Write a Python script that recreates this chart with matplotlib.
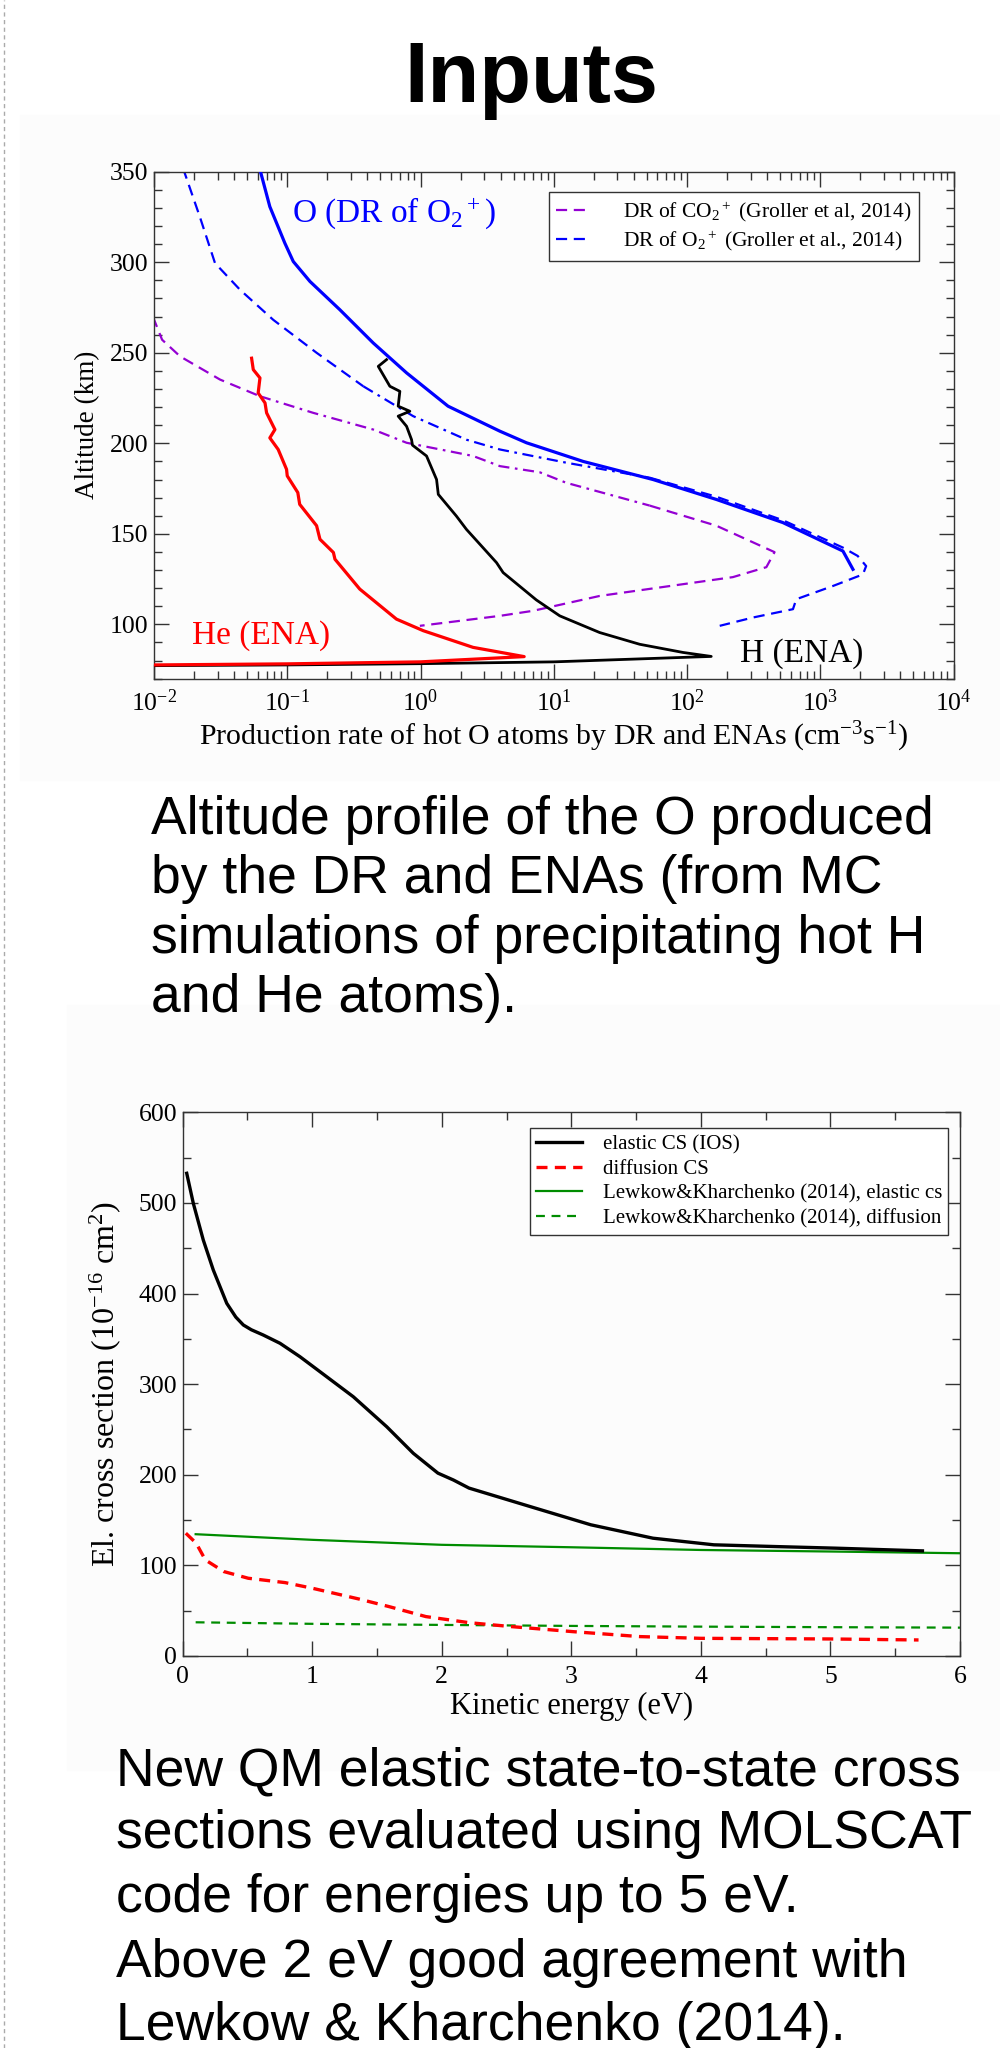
import numpy as np
import matplotlib
matplotlib.use("Agg")
import matplotlib.pyplot as plt
from matplotlib.ticker import LogLocator, MultipleLocator, NullFormatter
from matplotlib.patches import Rectangle
from matplotlib.lines import Line2D

# ---------------- Top chart data: production rate (cm^-3 s^-1) vs altitude (km)
o_dr_o2_rate = [0.063, 0.074, 0.096, 0.111, 0.148, 0.248, 0.442, 0.786, 1.61, 3.94, 6.24,
                16.6, 55.6, 166, 525, 1480, 1760]
o_dr_o2_alt = [350, 330.7, 310.5, 300.4, 289.4, 273.8, 255.4, 238.9, 220.5, 206.7, 200.3,
               190, 180, 169, 156.2, 140.5, 130.4]

groller_o2_rate = [0.0165, 0.0221, 0.0287, 0.0442, 0.0785, 0.166, 0.372, 0.881, 2.21, 3.94,
                   12.4, 52.5, 166, 525, 1480, 1910, 2210, 2090, 1245, 661, 624, 313, 176]
groller_o2_alt = [352, 325, 299.5, 284.8, 268.2, 250, 231.5, 215, 202, 196.6,
                  189.3, 181, 170.5, 157.5, 142.4, 137.8, 132.2, 127.6, 121.2, 113.9, 108.4, 103.8, 99.2]

groller_co2_rate = [0.0098, 0.0115, 0.0157, 0.0313, 0.0624, 0.157, 0.442, 0.786, 2.48, 3.94,
                    7.85, 12.4, 52.5, 166, 454, 394, 221, 93.3, 22.1, 7.0, 3.94, 0.989]
groller_co2_alt = [270, 257.2, 248, 235.2, 226, 216.8, 207.6, 200.3, 193, 187.4,
                   184, 178.2, 165.6, 154.5, 139.9, 131.6, 126.1, 122.2, 115.7, 107.5, 104.7, 99.2]

h_ena_rate = [0.556, 0.482, 0.589, 0.70, 0.68, 0.832, 0.68, 0.786, 0.857, 0.87, 1.11, 1.32,
              1.36, 1.86, 2.21, 3.72, 4.17, 7.4, 11.1, 22.1, 44.2, 93.3, 152, 10, 1, 0.1, 0.01]
h_ena_alt = [246.2, 242.5, 231.5, 228.7, 220.5, 217.7, 215, 209.4, 202, 199, 193, 180,
             171.8, 159.8, 152.5, 134.1, 128.6, 113.5, 104.7, 95.5, 89, 84.5, 82.3, 79.3, 78.3, 77.6, 77.2]

he_ena_rate = [0.054, 0.0556, 0.0624, 0.0605, 0.0681, 0.07, 0.0808, 0.074, 0.0855, 0.0988, 0.1,
               0.12, 0.124, 0.166, 0.176, 0.222, 0.228, 0.35, 0.66, 1.05, 2.48, 6.0, 1, 0.1, 0.01]
he_ena_alt = [247, 240.7, 236.1, 227.8, 222.3, 216.8, 207.6, 203, 196.6, 185.6, 182,
              172.8, 166.3, 154.5, 147, 139.7, 136, 119.5, 102.9, 96.5, 87.3, 82.2, 79.3, 78.2, 77.6]

top_xticks = [1e-2, 1e-1, 1e0, 1e1, 1e2, 1e3, 1e4]
top_yticks = [100, 150, 200, 250, 300, 350]

# ---------------- Bottom chart data: cross section (1e-16 cm^2) vs kinetic energy (eV)
energy_ios = [0.031, 0.082, 0.159, 0.236, 0.34, 0.41, 0.468, 0.53, 0.622, 0.751, 0.905, 1.06, 1.317,
              1.575, 1.78, 1.97, 2.09, 2.21, 2.68, 3.15, 3.63, 4.1, 4.57, 5.04, 5.71]
cs_elastic_ios = [532.7, 499.5, 459, 426, 389.2, 374, 365.3, 360, 354.2, 345.1, 330.3, 313.7, 286.1,
                  253, 223.7, 201.8, 194.2, 185.3, 165, 144.8, 130, 122.7, 120.8, 119, 116]

energy_diff = [0.024, 0.104, 0.175, 0.317, 0.506, 0.79, 1.0, 1.357, 1.593, 1.877, 2.21,
               2.54, 3.01, 3.53, 4.0, 5.0, 5.68]
cs_diffusion = [135.5, 124.5, 106, 93.2, 85.8, 81, 74.8, 63, 54.5, 43.5, 36.8,
                32.4, 26.9, 21.4, 19.5, 18.8, 17.7]

energy_lk = [0.1, 1, 2, 3, 4, 5, 6]
cs_lk_elastic = [134.4, 128.2, 122.7, 120, 117, 115.3, 113.4]
cs_lk_diffusion = [37.2, 35.5, 34.3, 33.2, 32.4, 31.8, 31.3]

bottom_xticks = [0, 1, 2, 3, 4, 5, 6]
bottom_yticks = [0, 100, 200, 300, 400, 500, 600]

caption_top = ["Altitude profile of the O produced",
               "by the DR and ENAs (from MC",
               "simulations of precipitating hot H",
               "and He atoms)."]
caption_bottom = ["New QM elastic state-to-state cross",
                  "sections evaluated using MOLSCAT",
                  "code for energies up to 5 eV.",
                  "Above 2 eV good agreement with",
                  "Lewkow & Kharchenko (2014)."]

# ---------------- figure
plt.rcParams.update({
    "font.family": ["Liberation Serif", "DejaVu Serif"],
    "mathtext.fontset": "custom",
    "mathtext.rm": "Liberation Serif",
    "mathtext.it": "Liberation Serif:italic",
    "mathtext.bf": "Liberation Serif:bold",
    "axes.linewidth": 1.0,
    "axes.edgecolor": "#333333",
    "axes.unicode_minus": False,
})

W, H = 1000, 2048
fig = plt.figure(figsize=(10, 20.48), dpi=100)
fig.patch.set_facecolor("white")


def fx(px):
    return px / W


def fy(py):
    return 1 - py / H


# very faint background of the embedded chart images
fig.add_artist(Rectangle((fx(20), fy(780)), fx(980), (780 - 115) / H,
                         transform=fig.transFigure, color="#fcfcfc", zorder=0))
fig.add_artist(Rectangle((fx(67), fy(1770)), fx(933), (1770 - 1005) / H,
                         transform=fig.transFigure, color="#fcfcfc", zorder=0))
# dashed page border on the left
fig.add_artist(Line2D([fx(4), fx(4)], [0, 1], transform=fig.transFigure,
                      color="#aaaaaa", lw=1.0, linestyle=(0, (3, 2.5))))

sans = ["Liberation Sans", "DejaVu Sans"]
fig.text(fx(531), fy(102), "Inputs", family=sans, fontweight="bold", fontsize=61,
         ha="center", va="baseline")

for line, yb in zip(caption_top, [834, 893.3, 952.7, 1011.7]):
    fig.text(fx(150.7), fy(yb), line, family=sans, fontsize=38.5, ha="left", va="baseline")
for line, yb in zip(caption_bottom, [1785, 1848.3, 1911.7, 1976.7, 2040]):
    fig.text(fx(116), fy(yb), line, family=sans, fontsize=38.5, ha="left", va="baseline")

# ---------------- top axes
ax1 = fig.add_axes([fx(154), fy(678.7), (953.5 - 154) / W, (678.7 - 171.7) / H])
ax1.set_facecolor("none")
blue = "#0000ff"
purple = "#9400d3"
dash = (0, (5, 3))
dashdot = (0, (5, 2.5, 1.2, 2.5))

ax1.plot(o_dr_o2_rate, o_dr_o2_alt, color=blue, lw=2.3, zorder=4)
n1, n2 = 6, 11
ax1.plot(groller_o2_rate[:n1 + 1], groller_o2_alt[:n1 + 1], color=blue, lw=1.6, linestyle=dash)
ax1.plot(groller_o2_rate[n1:n2 + 1], groller_o2_alt[n1:n2 + 1], color=blue, lw=1.6, linestyle=dashdot)
ax1.plot(groller_o2_rate[n2:], groller_o2_alt[n2:], color=blue, lw=1.6, linestyle=dash)
m1, m2 = 4, 12
ax1.plot(groller_co2_rate[:m1 + 1], groller_co2_alt[:m1 + 1], color=purple, lw=1.6, linestyle=dash)
ax1.plot(groller_co2_rate[m1:m2 + 1], groller_co2_alt[m1:m2 + 1], color=purple, lw=1.6, linestyle=dashdot)
ax1.plot(groller_co2_rate[m2:], groller_co2_alt[m2:], color=purple, lw=1.6, linestyle=dash)
ax1.plot(h_ena_rate, h_ena_alt, color="black", lw=2.0, zorder=3)
ax1.plot(he_ena_rate, he_ena_alt, color="#ff0000", lw=2.3, zorder=3)

ax1.set_xscale("log")
ax1.set_xlim(1e-2, 1e4)
ax1.set_ylim(70, 350)
ax1.set_xticks(top_xticks)
ax1.xaxis.set_minor_locator(LogLocator(base=10, subs=np.arange(2, 10), numticks=20))
ax1.xaxis.set_minor_formatter(NullFormatter())
ax1.set_yticks(top_yticks)
ax1.yaxis.set_minor_locator(MultipleLocator(10))
ax1.tick_params(which="both", direction="in", top=True, right=True, color="#333333", width=1.0)
ax1.tick_params(which="major", length=11, labelsize=18.5)
ax1.tick_params(which="minor", length=6)
ax1.tick_params(axis="x", which="major", pad=8)
ax1.tick_params(axis="y", which="major", pad=4)

ax1.set_xlabel(r"Production rate of hot O atoms by DR and ENAs (cm$^{-3}$s$^{-1}$)", fontsize=21.5)
ax1.xaxis.set_label_coords(0.5, -0.081)
ax1.set_ylabel("Altitude (km)", fontsize=19.5)
ax1.yaxis.set_label_coords(-0.0675, 0.5)

ax1.text(0.108, 327, r"O (DR of O$_2$$^+$)", color=blue, fontsize=24, ha="left", va="center")
ax1.text(0.0192, 93.7, "He (ENA)", color="#ff0000", fontsize=24, ha="left", va="center")
ax1.text(248, 83.6, "H (ENA)", color="black", fontsize=24, ha="left", va="center")

h_co2 = Line2D([], [], color=purple, lw=1.6, linestyle=dash)
h_o2 = Line2D([], [], color=blue, lw=1.6, linestyle=dash)
leg1 = ax1.legend([h_co2, h_o2],
                  [r"DR of CO$_2$$^+$ (Groller et al, 2014)", r"DR of O$_2$$^+$ (Groller et al., 2014)"],
                  loc="upper right", bbox_to_anchor=(0.957, 0.9594), borderaxespad=0,
                  fontsize=15.5, fancybox=False, framealpha=1, edgecolor="#333333",
                  handlelength=1.6, labelspacing=0.25, borderpad=0.35, handletextpad=1.5)
leg1.get_frame().set_linewidth(1.0)

# ---------------- bottom axes
ax2 = fig.add_axes([fx(182.7), fy(1656), (960 - 182.7) / W, (1656 - 1112.3) / H])
ax2.set_facecolor("none")
green = "#008c00"
ax2.plot(energy_ios, cs_elastic_ios, color="black", lw=2.4, label="elastic CS (IOS)", zorder=4)
ax2.plot(energy_diff, cs_diffusion, color="#ff0000", lw=2.4, linestyle=(0, (3.3, 2.2)),
         label="diffusion CS", zorder=4)
ax2.plot(energy_lk, cs_lk_elastic, color=green, lw=1.6, label="Lewkow&Kharchenko (2014), elastic cs")
ax2.plot(energy_lk, cs_lk_diffusion, color=green, lw=1.6, linestyle=(0, (4, 3)),
         label="Lewkow&Kharchenko (2014), diffusion")

ax2.set_xlim(0, 6)
ax2.set_ylim(0, 600)
ax2.set_xticks(bottom_xticks)
ax2.xaxis.set_minor_locator(MultipleLocator(0.5))
ax2.set_yticks(bottom_yticks)
ax2.yaxis.set_minor_locator(MultipleLocator(50))
ax2.tick_params(which="both", direction="in", top=True, right=True, color="#333333", width=1.0)
ax2.tick_params(which="major", length=11, labelsize=18.5)
ax2.tick_params(which="minor", length=6)
ax2.tick_params(axis="x", which="major", pad=7.5)
ax2.tick_params(axis="y", which="major", pad=4)

ax2.set_xlabel("Kinetic energy (eV)", fontsize=22)
ax2.xaxis.set_label_coords(0.5, -0.066)
ax2.set_ylabel(r"El. cross section (10$^{-16}$ cm$^{2}$)", fontsize=23)
ax2.yaxis.set_label_coords(-0.0768, 0.5)

leg2 = ax2.legend(loc="upper right", bbox_to_anchor=(0.985, 0.9706), borderaxespad=0,
                  fontsize=15, fancybox=False, framealpha=1, edgecolor="#333333",
                  handlelength=2.2, labelspacing=0.25, borderpad=0.3, handletextpad=1.0)
leg2.get_frame().set_linewidth(1.0)

fig.savefig("out.png", dpi=100)
